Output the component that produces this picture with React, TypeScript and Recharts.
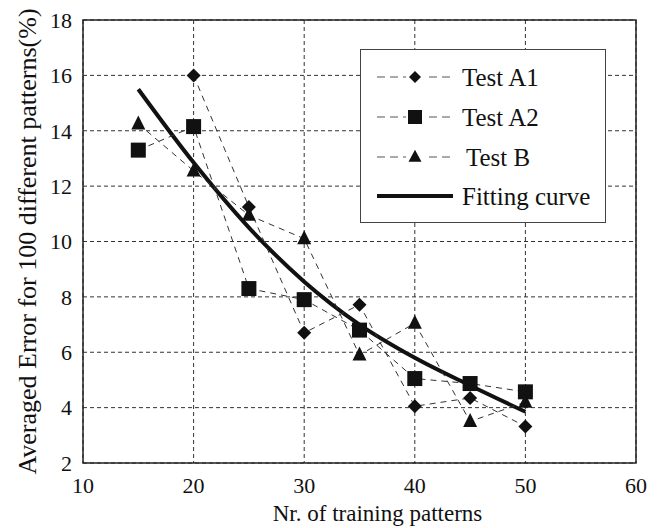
import React from "react";
import {
  LineChart,
  Line,
  XAxis,
  YAxis,
  CartesianGrid,
  ReferenceArea,
  Legend,
} from "recharts";

// values
const trainingPatterns = [15, 20, 25, 30, 35, 40, 45, 50];
const testA1 = [null, 16.0, 11.25, 6.7, 7.72, 4.05, 4.35, 3.32];
const testA2 = [13.3, 14.15, 8.3, 7.9, 6.8, 5.05, 4.87, 4.57];
const testB = [14.25, 12.55, 10.95, 10.1, 5.9, 7.05, 3.5, 4.2];
const fittingCurve = [15.5, 12.85, 10.5, 8.55, 7.0, 5.8, 4.8, 3.85];

const xTicks = [10, 20, 30, 40, 50, 60];
const yTicks = [2, 4, 6, 8, 10, 12, 14, 16, 18];

const seriesNames = ["Test A1", "Test A2", "Test B", "Fitting curve"];
const seriesKeys = ["a1", "a2", "b", "fit"];

const data = trainingPatterns.map((x, i) => ({
  x,
  a1: testA1[i],
  a2: testA2[i],
  b: testB[i],
  fit: fittingCurve[i],
}));

const FONT = "Liberation Serif, DejaVu Serif, Times New Roman, serif";
const SERIES_STROKE = "#333";
const SERIES_DASH = "6 5";

const Diamond = ({ cx, cy, r = 7 }: any) => (
  <path d={`M${cx},${cy - r}L${cx + r},${cy}L${cx},${cy + r}L${cx - r},${cy}Z`} fill="#111" />
);
const Square = ({ cx, cy, s = 15 }: any) => (
  <rect x={cx - s / 2} y={cy - s / 2} width={s} height={s} fill="#111" />
);
const Triangle = ({ cx, cy, w = 14, h = 14 }: any) => (
  <path d={`M${cx},${cy - h * 0.6}L${cx + w / 2},${cy + h * 0.4}L${cx - w / 2},${cy + h * 0.4}Z`} fill="#111" />
);

const markerFor = (key: string, cx: number, cy: number, small = false) => {
  if (key === "a1") return <Diamond cx={cx} cy={cy} r={small ? 6 : 7} />;
  if (key === "a2") return <Square cx={cx} cy={cy} s={small ? 14 : 15} />;
  if (key === "b") return <Triangle cx={cx} cy={cy} w={small ? 13 : 14} h={small ? 12 : 14} />;
  return null;
};

const dotFor = (key: string) => (p: any) => {
  const { cx, cy, index, value } = p;
  if (value == null || cx == null || cy == null) return <g key={`${key}-${index}`} />;
  return <g key={`${key}-${index}`}>{markerFor(key, cx, cy)}</g>;
};

const LegendBox = () => {
  const rowY = [28, 68, 108, 147];
  return (
    <svg width={246} height={174} style={{ display: "block" }}>
      <rect x={0.5} y={0.5} width={245} height={173} fill="#fff" stroke="#444" strokeWidth={1} />
      {seriesKeys.map((key, i) => (
        <g key={key}>
          {key === "fit" ? (
            <line x1={17} x2={93} y1={rowY[i]} y2={rowY[i]} stroke="#111" strokeWidth={4} />
          ) : (
            <>
              <line x1={17} x2={93} y1={rowY[i]} y2={rowY[i]} stroke="#555" strokeWidth={1} strokeDasharray="8 5" />
              <rect x={46} y={rowY[i] - 9} width={18} height={18} fill="#fff" />
              {markerFor(key, 55, rowY[i], true)}
            </>
          )}
          <text
            x={key === "b" ? 106 : 102}
            y={rowY[i] + 8.5}
            style={{ fontFamily: FONT, fontSize: 25 }}
            fill="#111"
          >
            {seriesNames[i]}
          </text>
        </g>
      ))}
    </svg>
  );
};

export default function App() {
  return (
    <div
      style={{
        position: "absolute",
        left: 0,
        top: 0,
        width: 665,
        height: 528,
        background: "#fff",
        fontFamily: FONT,
      }}
    >
      <LineChart
        width={665}
        height={528}
        data={data}
        margin={{ top: 20, right: 29, left: 0, bottom: 0 }}
        style={{ fontFamily: FONT }}
      >
        <CartesianGrid stroke="#333" strokeDasharray="4 3" strokeWidth={1} />
        <XAxis
          dataKey="x"
          type="number"
          domain={[10, 60]}
          ticks={xTicks}
          height={65}
          tickLine={false}
          axisLine={false}
          tickSize={0}
          tickMargin={14}
          tick={{ fill: "#111", fontSize: 22, style: { fontFamily: FONT } }}
          label={{
            value: "Nr. of training patterns",
            position: "center",
            dx: 18,
            dy: 17,
            fill: "#111",
            fontSize: 23,
            style: { fontFamily: FONT },
          }}
        />
        <YAxis
          type="number"
          domain={[2, 18]}
          ticks={yTicks}
          width={83}
          tickLine={false}
          axisLine={false}
          tickSize={0}
          tickMargin={11}
          tick={{ fill: "#111", fontSize: 22, style: { fontFamily: FONT } }}
          label={{
            value: "Averaged Error for 100 different patterns(%)",
            angle: -90,
            position: "center",
            dx: -15,
            fill: "#111",
            fontSize: 26,
            style: { fontFamily: FONT },
          }}
        />
        <ReferenceArea x1={10} x2={60} y1={2} y2={18} fill="none" stroke="#222" strokeWidth={1.5} ifOverflow="visible" />
        <Line
          dataKey="fit"
          name={seriesNames[3]}
          type="monotone"
          stroke="#111"
          strokeWidth={4}
          dot={false}
          activeDot={false}
          isAnimationActive={false}
        />
        <Line
          dataKey="a1"
          name={seriesNames[0]}
          type="linear"
          stroke={SERIES_STROKE}
          strokeWidth={1}
          strokeDasharray={SERIES_DASH}
          dot={dotFor("a1")}
          activeDot={false}
          isAnimationActive={false}
        />
        <Line
          dataKey="a2"
          name={seriesNames[1]}
          type="linear"
          stroke={SERIES_STROKE}
          strokeWidth={1}
          strokeDasharray={SERIES_DASH}
          dot={dotFor("a2")}
          activeDot={false}
          isAnimationActive={false}
        />
        <Line
          dataKey="b"
          name={seriesNames[2]}
          type="linear"
          stroke={SERIES_STROKE}
          strokeWidth={1}
          strokeDasharray={SERIES_DASH}
          dot={dotFor("b")}
          activeDot={false}
          isAnimationActive={false}
        />
        <Legend
          layout="vertical"
          align="center"
          verticalAlign="middle"
          wrapperStyle={{ left: 360, top: 49, width: 246, height: 174 }}
          content={() => <LegendBox />}
        />
      </LineChart>
    </div>
  );
}
